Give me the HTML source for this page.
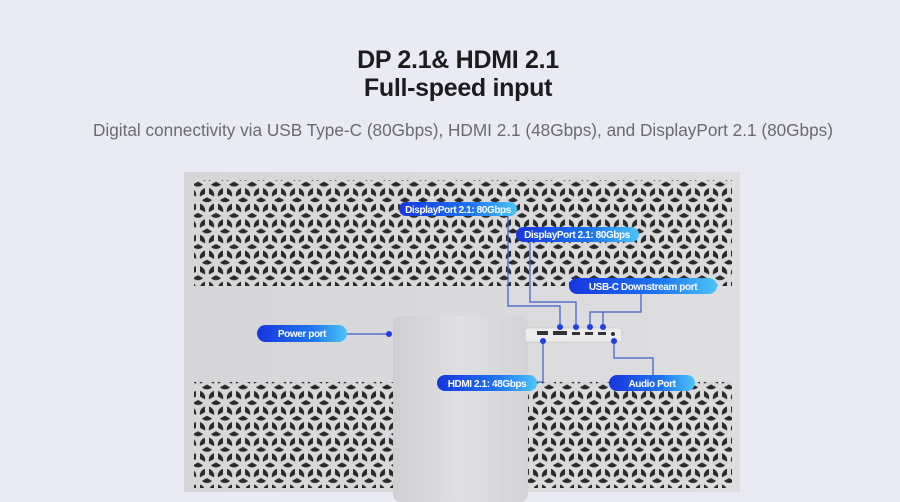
<!DOCTYPE html>
<html><head><meta charset="utf-8"><style>
html,body{margin:0;padding:0}
body{width:900px;height:502px;background:#e9eaf3;position:relative;overflow:hidden;font-family:"Liberation Sans",sans-serif}
.t{position:absolute;left:8px;width:900px;text-align:center;color:#1c1c1e;font-weight:bold;font-size:25px;letter-spacing:-0.3px}
.sub{position:absolute;left:13px;width:900px;top:120px;text-align:center;color:#6a6a70;font-size:17.2px}
</style></head><body>
<div class="t" style="top:46px">DP 2.1&amp; HDMI 2.1</div>
<div class="t" style="top:74px">Full-speed input</div>
<div class="sub">Digital connectivity via USB Type-C (80Gbps), HDMI 2.1 (48Gbps), and DisplayPort 2.1 (80Gbps)</div>
<svg width="900" height="502" style="position:absolute;left:0;top:0">
<defs>
<pattern id="g" width="18" height="31.2" patternUnits="userSpaceOnUse">
<g id="h"><circle cx="9" cy="7.8" r="7.2" fill="#2a2a2a"/>
<g stroke="#d8d8da" stroke-width="4"><line x1="9" y1="7.8" x2="9" y2="-1"/><line x1="9" y1="7.8" x2="17" y2="12.2"/><line x1="9" y1="7.8" x2="1" y2="12.2"/></g></g>
<g transform="translate(-9,15.6)"><use href="#h"/></g><g transform="translate(9,15.6)"><use href="#h"/></g>
</pattern>
<linearGradient id="p" x1="0" x2="1"><stop offset="0" stop-color="#1736de"/><stop offset="0.6" stop-color="#1e74ee"/><stop offset="1" stop-color="#4cc4f6"/></linearGradient>
<linearGradient id="pn" x1="0" x2="1"><stop offset="0" stop-color="#d6d6d8"/><stop offset="1" stop-color="#dedee0"/></linearGradient>
<linearGradient id="st" x1="0" x2="1"><stop offset="0" stop-color="#cfcfd1"/><stop offset="0.5" stop-color="#e0e0e2"/><stop offset="1" stop-color="#d4d4d6"/></linearGradient>
</defs>
<rect x="184" y="172" width="556" height="320" fill="url(#pn)"/>
<rect x="194" y="180" width="538" height="106" fill="url(#g)"/>
<rect x="194" y="382" width="538" height="106" fill="url(#g)"/>
<rect x="393" y="316" width="135" height="186" rx="8" fill="url(#st)"/>
<rect x="525" y="328" width="97" height="14" rx="3" fill="#ececee" stroke="#bbb" stroke-width="0.5"/>
<g fill="#333"><rect x="537" y="331" width="11" height="4"/><rect x="553" y="331" width="14" height="4"/><rect x="572" y="332" width="8" height="3"/><rect x="585" y="332" width="8" height="3"/><rect x="598" y="332" width="8" height="3"/><circle cx="613" cy="334" r="2"/></g>
<g stroke="#3a5ec8" stroke-width="1.2" fill="none">
<polyline points="508,215 508,306 560,306 560,327"/>
<polyline points="530,242 530,302 576,302 576,327"/>
<polyline points="641,294 641,312 590,312 590,327"/>
<line x1="603" y1="312" x2="603" y2="327"/>
<line x1="347" y1="334" x2="389" y2="334"/>
<polyline points="543,341 543,382 537,382"/>
<polyline points="614,341 614,358 653,358 653,375"/>
</g>
<g fill="#1f3fe6"><circle cx="560" cy="327" r="3"/><circle cx="576" cy="327" r="3"/><circle cx="590" cy="327" r="3"/><circle cx="603" cy="327" r="3"/><circle cx="389" cy="334" r="3"/><circle cx="543" cy="341" r="3"/><circle cx="614" cy="341" r="3"/></g>
<g fill="url(#p)">
<rect x="399" y="202" width="118" height="14" rx="7"/>
<rect x="516" y="227" width="123" height="15" rx="7.5"/>
<rect x="569" y="278" width="148" height="16" rx="8"/>
<rect x="257" y="325" width="90" height="17" rx="8.5"/>
<rect x="437" y="375" width="100" height="16" rx="8"/>
<rect x="609" y="375" width="86" height="16" rx="8"/>
</g>
<g fill="#fff" font-family="Liberation Sans,sans-serif" font-size="10" font-weight="bold" text-anchor="middle" letter-spacing="-0.4">
<text x="458" y="213">DisplayPort 2.1: 80Gbps</text>
<text x="577" y="238">DisplayPort 2.1: 80Gbps</text>
<text x="643" y="290">USB-C Downstream port</text>
<text x="302" y="337">Power port</text>
<text x="487" y="387">HDMI 2.1: 48Gbps</text>
<text x="652" y="387">Audio Port</text>
</g>
</svg>
</body></html>
